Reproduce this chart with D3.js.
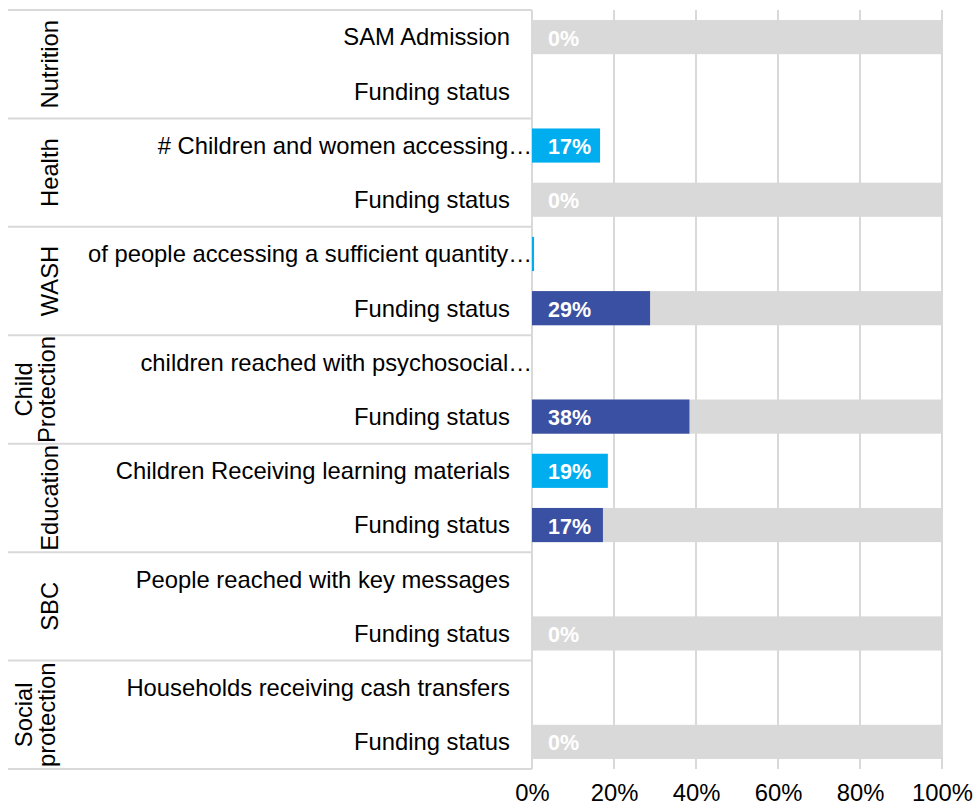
<!DOCTYPE html>
<html>
<head>
<meta charset="utf-8">
<script src="https://cdn.jsdelivr.net/npm/d3@7"></script>
<style>
  body { margin: 0; background: #fff; }
  text { font-family: "Liberation Sans", Arial, sans-serif; }
</style>
</head>
<body>
<div id="chart"></div>
<script>
'use strict';

// sectors (outer category level), split into lines for the rotated labels
let groups = ['Nutrition', 'Health', 'WASH', 'Child Protection', 'Education', 'SBC', 'Social protection'];
let groupLines = [['Nutrition'], ['Health'], ['WASH'], ['Child', 'Protection'], ['Education'], ['SBC'], ['Social', 'protection']];

// indicator row per sector (first row of each group)
let indicatorLabels = [
    'SAM Admission',
    '# Children and women accessing\u2026',
    'of people accessing a sufficient quantity\u2026',
    'children reached with psychosocial\u2026',
    'Children Receiving learning materials',
    'People reached with key messages',
    'Households receiving cash transfers'
];
let indicatorValues = [0, 0.166, 0.005, null, 0.185, null, null];
let indicatorBackground = [true, false, false, false, false, false, false];

// funding status row per sector (second row of each group)
let fundingLabel = 'Funding status';
let fundingValues = [null, 0, 0.288, 0.384, 0.173, 0, 0];
let fundingBackground = [false, true, true, true, true, true, true];

let xTicks = [0, 0.2, 0.4, 0.6, 0.8, 1];

let width = 973, height = 807;
let margin = { top: 10, right: 31, bottom: 38, left: 532 };
let labelRight = 510; // right edge of the row labels
let lineLeft = 8;     // left end of the group separators
let fontSize = '23.8px';

let colors = {
    indicator: '#00aeef',
    funding: '#3a50a2',
    background: '#d9d9d9',
    grid: '#d9d9d9'
};

// flatten into rows
let rows = [];
groups.forEach(function(g, i) {
    rows.push({ id: g + '-ind', group: i, label: indicatorLabels[i], value: indicatorValues[i], bg: indicatorBackground[i], type: 'indicator' });
    rows.push({ id: g + '-fund', group: i, label: fundingLabel, value: fundingValues[i], bg: fundingBackground[i], type: 'funding' });
});

let svg = d3.select('#chart').append('svg')
    .attr('width', width)
    .attr('height', height);

let x = d3.scaleLinear()
    .domain([0, 1])
    .range([margin.left, width - margin.right]);

let y = d3.scaleBand()
    .domain(rows.map(function(d) { return d.id; }))
    .range([margin.top, height - margin.bottom])
    .paddingInner(0.37)
    .paddingOuter(0.185);

let step = y.step();
let groupTop = function(i) { return y(rows[i * 2].id) - y.paddingOuter() * step; };

// vertical gridlines
svg.append('g')
    .selectAll('line')
    .data(xTicks)
    .enter().append('line')
    .attr('x1', function(d) { return x(d); })
    .attr('x2', function(d) { return x(d); })
    .attr('y1', margin.top)
    .attr('y2', height - margin.bottom)
    .style('stroke', colors.grid)
    .style('stroke-width', 2);

// group separators on the category axis
let seps = d3.range(groups.length + 1).map(function(i) {
    return i < groups.length ? groupTop(i) : height - margin.bottom;
});
svg.append('g')
    .selectAll('line')
    .data(seps)
    .enter().append('line')
    .attr('x1', lineLeft)
    .attr('x2', x(0))
    .attr('y1', function(d) { return d; })
    .attr('y2', function(d) { return d; })
    .style('stroke', colors.grid)
    .style('stroke-width', 2);

// background (100%) bars
svg.append('g')
    .selectAll('rect')
    .data(rows.filter(function(d) { return d.bg; }))
    .enter().append('rect')
    .attr('x', x(0))
    .attr('y', function(d) { return y(d.id); })
    .attr('width', x(1) - x(0))
    .attr('height', y.bandwidth())
    .style('fill', colors.background);

// value bars
svg.append('g')
    .selectAll('rect')
    .data(rows.filter(function(d) { return d.value !== null && d.value > 0; }))
    .enter().append('rect')
    .attr('x', x(0))
    .attr('y', function(d) { return y(d.id); })
    .attr('width', function(d) { return x(d.value) - x(0); })
    .attr('height', y.bandwidth())
    .style('fill', function(d) { return colors[d.type]; });

// value labels
svg.append('g')
    .selectAll('text')
    .data(rows.filter(function(d) { return d.value !== null && (d.bg || d.value >= 0.05); }))
    .enter().append('text')
    .attr('x', x(0) + 16)
    .attr('y', function(d) { return y(d.id) + y.bandwidth() / 2 + 1; })
    .attr('dy', '0.35em')
    .style('font-size', '21.5px')
    .style('font-weight', 'bold')
    .style('fill', '#fff')
    .text(function(d) { return d3.format('.0%')(d.value); });

// row labels
svg.append('g')
    .selectAll('text')
    .data(rows)
    .enter().append('text')
    .attr('x', function(d) { return /\u2026$/.test(d.label) ? x(0) : labelRight; })
    .attr('y', function(d) { return y(d.id) + y.bandwidth() / 2; })
    .attr('dy', '0.35em')
    .attr('text-anchor', 'end')
    .style('font-size', fontSize)
    .style('fill', '#000')
    .text(function(d) { return d.label; });

// group labels, rotated
let gl = svg.append('g')
    .selectAll('text')
    .data(groupLines)
    .enter().append('text')
    .attr('transform', function(d, i) {
        let cy = (seps[i] + seps[i + 1]) / 2;
        return 'translate(0,' + cy + ') rotate(-90)';
    })
    .attr('text-anchor', 'middle')
    .style('font-size', fontSize)
    .style('fill', '#000');

gl.selectAll('tspan')
    .data(function(d) {
        let base = d.length === 1 ? [58] : [32, 55];
        return d.map(function(t, j) { return { t: t, b: base[j] }; });
    })
    .enter().append('tspan')
    .attr('x', 0)
    .attr('y', function(d) { return d.b; })
    .text(function(d) { return d.t; });

// x axis
let xAxis = d3.axisBottom(x)
    .tickValues(xTicks)
    .tickFormat(d3.format('.0%'))
    .tickSize(0)
    .tickPadding(0);

let gx = svg.append('g')
    .attr('transform', 'translate(0,' + (height - margin.bottom) + ')')
    .call(xAxis);
gx.select('.domain').remove();
gx.selectAll('text')
    .attr('y', 32)
    .attr('dy', 0)
    .style('font-size', fontSize)
    .style('font-family', '"Liberation Sans", Arial, sans-serif')
    .style('fill', '#000');
</script>
</body>
</html>
